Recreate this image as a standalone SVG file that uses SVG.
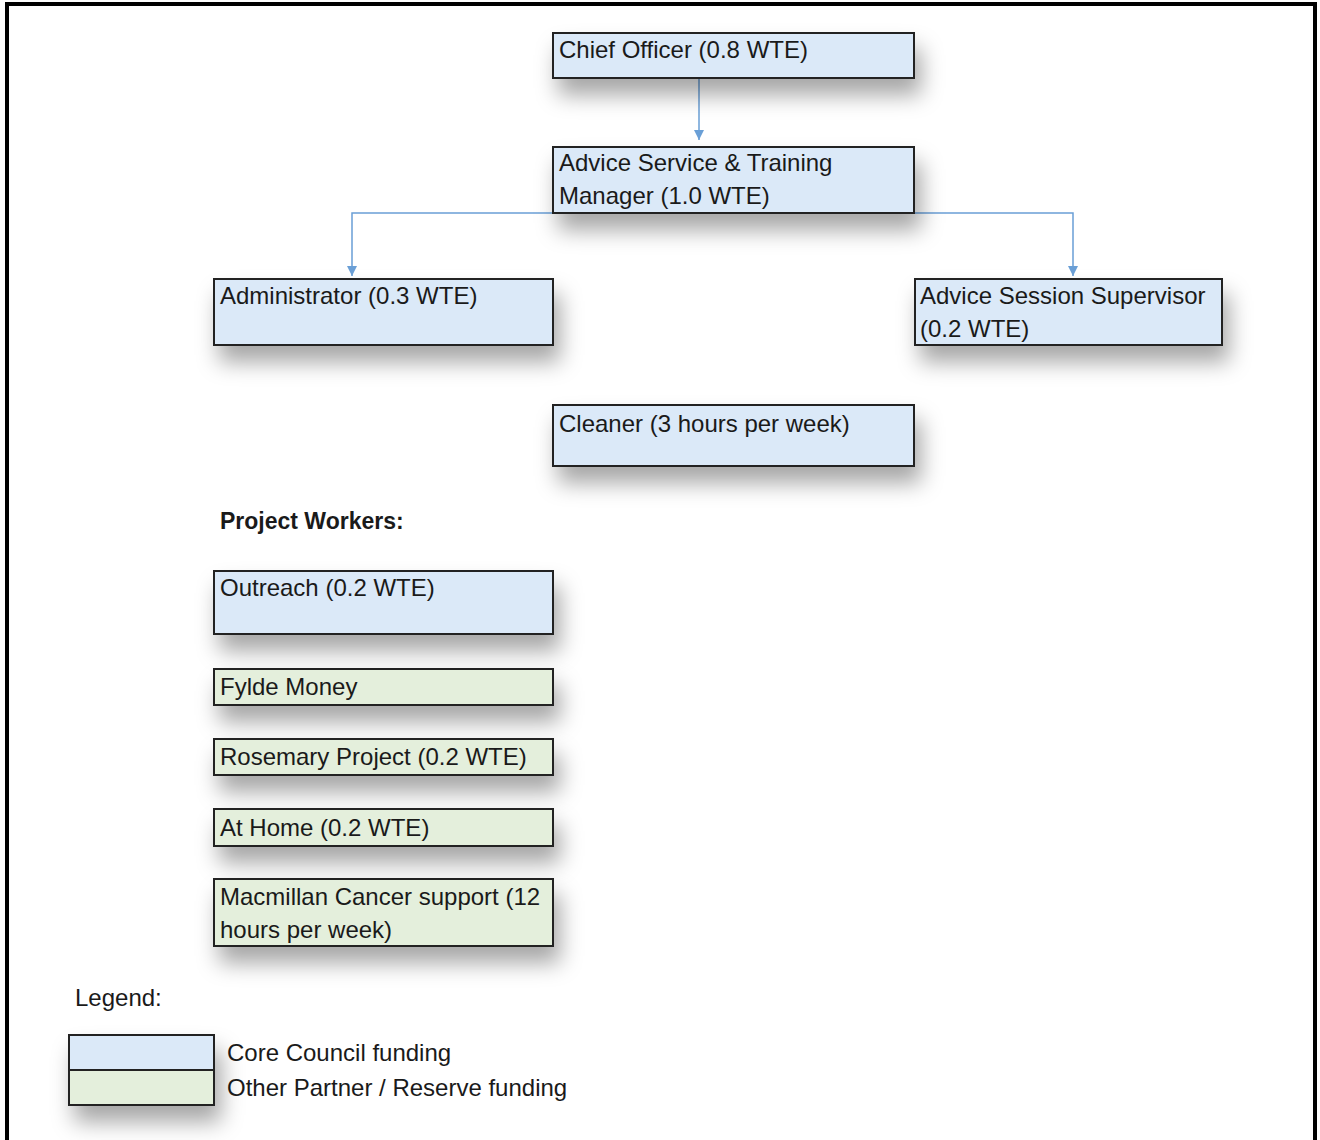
<svg xmlns="http://www.w3.org/2000/svg" width="1320" height="1140" viewBox="0 0 1320 1140">
<style>
.t{font-family:"Liberation Sans",Arial,sans-serif;font-size:24px;fill:#1a1a1a}
.b{font-weight:bold;font-size:23px}
.blue{fill:#dbe9f8;stroke:#222;stroke-width:2}
.green{fill:#e4efdc;stroke:#222;stroke-width:2}
.c{fill:none;stroke:#6a9fd6;stroke-width:1.5}
</style>
<defs>
<filter id="sh" x="-20%" y="-40%" width="150%" height="250%">
<feDropShadow dx="6" dy="16" stdDeviation="11" flood-color="#000" flood-opacity="0.35"/>
</filter>
<marker id="ar" viewBox="0 0 10 10" refX="10" refY="5" markerWidth="7" markerHeight="7" orient="auto">
<path d="M0,0 L10,5 L0,10 z" fill="#6a9fd6"/>
</marker>
</defs>
<rect x="0" y="0" width="1320" height="1140" fill="#fff"/>
<rect x="7" y="4" width="1308" height="1140" fill="none" stroke="#000" stroke-width="4"/>
<g id="connectors">
<line class="c" x1="699" y1="79" x2="699" y2="140" marker-end="url(#ar)"/>
<path class="c" d="M699,213 H352 V276" marker-end="url(#ar)"/>
<path class="c" d="M699,213 H1073 V276" marker-end="url(#ar)"/>
</g>
<g id="chief"><rect class="blue" filter="url(#sh)" x="553" y="33" width="361" height="45"/><text class="t" x="559" y="58">Chief Officer (0.8 WTE)</text></g>
<g id="manager"><rect class="blue" filter="url(#sh)" x="553" y="147" width="361" height="66"/><text class="t" x="559" y="171">Advice Service &amp; Training</text><text class="t" x="559" y="204">Manager (1.0 WTE)</text></g>
<g id="admin"><rect class="blue" filter="url(#sh)" x="214" y="279" width="339" height="66"/><text class="t" x="220" y="304">Administrator (0.3 WTE)</text></g>
<g id="supervisor"><rect class="blue" filter="url(#sh)" x="915" y="279" width="307" height="66"/><text class="t" x="920" y="304">Advice Session Supervisor</text><text class="t" x="920" y="337">(0.2 WTE)</text></g>
<g id="cleaner"><rect class="blue" filter="url(#sh)" x="553" y="405" width="361" height="61"/><text class="t" x="559" y="432">Cleaner (3 hours per week)</text></g>
<g id="heading"><text class="t b" x="220" y="529">Project Workers:</text></g>
<g id="outreach"><rect class="blue" filter="url(#sh)" x="214" y="571" width="339" height="63"/><text class="t" x="220" y="596">Outreach (0.2 WTE)</text></g>
<g id="fylde"><rect class="green" filter="url(#sh)" x="214" y="669" width="339" height="36"/><text class="t" x="220" y="695">Fylde Money</text></g>
<g id="rosemary"><rect class="green" filter="url(#sh)" x="214" y="739" width="339" height="36"/><text class="t" x="220" y="765">Rosemary Project (0.2 WTE)</text></g>
<g id="athome"><rect class="green" filter="url(#sh)" x="214" y="809" width="339" height="37"/><text class="t" x="220" y="836">At Home (0.2 WTE)</text></g>
<g id="macmillan"><rect class="green" filter="url(#sh)" x="214" y="879" width="339" height="67"/><text class="t" x="220" y="905">Macmillan Cancer support (12</text><text class="t" x="220" y="938">hours per week)</text></g>
<g id="legend">
<text class="t" x="75" y="1006">Legend:</text>
<g filter="url(#sh)"><rect class="blue" x="69" y="1035" width="145" height="35"/><rect class="green" x="69" y="1070" width="145" height="35"/></g>
<text class="t" x="227" y="1061">Core Council funding</text>
<text class="t" x="227" y="1096">Other Partner / Reserve funding</text>
</g>
</svg>
